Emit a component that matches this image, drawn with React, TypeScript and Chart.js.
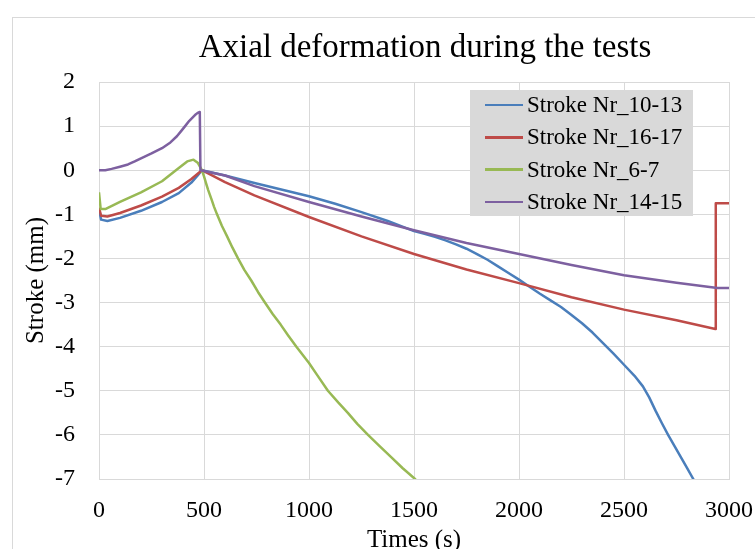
import React, { useEffect, useRef } from "react";
import { Chart, registerables } from "chart.js";

Chart.register(...registerables);

const CHART_TITLE = "Axial deformation during the tests";
const X_AXIS_TITLE = "Times (s)";
const Y_AXIS_TITLE = "Stroke (mm)";

const X_TICKS = [0, 500, 1000, 1500, 2000, 2500, 3000];
const Y_TICKS = [2, 1, 0, -1, -2, -3, -4, -5, -6, -7];

const SERIES_NAMES = ["Stroke Nr_10-13", "Stroke Nr_16-17", "Stroke Nr_6-7", "Stroke Nr_14-15"];
const SERIES_COLORS = ["#4A7EBB", "#BE4B48", "#98B954", "#7D60A0"];

// Stroke Nr_10-13
const blueTimes = [0, 10, 40, 100, 200, 300, 380, 440, 470, 490, 600, 750, 1000, 1125, 1250, 1375, 1500, 1550, 1600, 1650, 1700, 1750, 1800, 1850, 1900, 1950, 2000, 2050, 2100, 2150, 2200, 2250, 2300, 2350, 2400, 2450, 2500, 2550, 2590, 2620, 2650, 2680, 2710, 2740, 2770, 2800, 2830, 2880];
const blueStroke = [-0.9, -1.12, -1.15, -1.08, -0.92, -0.72, -0.52, -0.28, -0.12, 0, -0.12, -0.3, -0.59, -0.76, -0.95, -1.15, -1.38, -1.44, -1.51, -1.59, -1.68, -1.78, -1.9, -2.03, -2.18, -2.33, -2.48, -2.64, -2.8, -2.95, -3.1, -3.28, -3.47, -3.68, -3.92, -4.16, -4.41, -4.66, -4.9, -5.15, -5.45, -5.73, -6.0, -6.25, -6.5, -6.75, -7.0, -7.4];

// Stroke Nr_16-17
const redTimes = [0, 10, 40, 100, 200, 300, 380, 440, 490, 600, 740, 1000, 1250, 1500, 1750, 2000, 2250, 2500, 2750, 2935, 2937, 3000];
const redStroke = [-0.85, -1.03, -1.05, -0.97, -0.8, -0.6, -0.4, -0.2, 0, -0.27, -0.57, -1.06, -1.5, -1.9, -2.25, -2.56, -2.88, -3.16, -3.4, -3.6, -0.75, -0.75];

// Stroke Nr_6-7
const greenTimes = [0, 8, 30, 100, 200, 300, 380, 420, 450, 470, 490, 500, 510, 520, 535, 548, 562, 585, 610, 635, 662, 692, 725, 757, 790, 827, 865, 900, 940, 1000, 1040, 1090, 1140, 1185, 1230, 1281, 1335, 1390, 1445, 1505, 1560];
const greenStroke = [-0.5, -0.88, -0.88, -0.72, -0.5, -0.25, 0.05, 0.2, 0.24, 0.17, 0, -0.14, -0.3, -0.45, -0.65, -0.83, -1, -1.26, -1.5, -1.75, -2, -2.26, -2.5, -2.76, -3, -3.26, -3.5, -3.74, -4, -4.37, -4.65, -5, -5.27, -5.5, -5.75, -6, -6.25, -6.5, -6.75, -7, -7.3];

// Stroke Nr_14-15
const purpleTimes = [0, 30, 60, 100, 138, 170, 200, 250, 300, 340, 371, 390, 410, 430, 457, 470, 480, 483, 600, 740, 1000, 1250, 1500, 1750, 2000, 2250, 2500, 2750, 2945, 3000];
const purpleStroke = [0, 0, 0.03, 0.08, 0.13, 0.2, 0.27, 0.38, 0.5, 0.63, 0.77, 0.88, 1.0, 1.12, 1.25, 1.3, 1.32, 0, -0.12, -0.36, -0.72, -1.05, -1.36, -1.65, -1.9, -2.15, -2.38, -2.55, -2.67, -2.67];

const SERIES_TIMES = [blueTimes, redTimes, greenTimes, purpleTimes];
const SERIES_STROKES = [blueStroke, redStroke, greenStroke, purpleStroke];

const FONT_FAMILY = "'Liberation Serif', 'Times New Roman', serif";

const titlePlugin = {
  id: "customTitle",
  afterDraw(chart: any) {
    const ctx = chart.ctx;
    ctx.save();
    ctx.font = `33px ${FONT_FAMILY}`;
    ctx.fillStyle = "#000";
    ctx.textAlign = "center";
    ctx.textBaseline = "middle";
    ctx.fillText(CHART_TITLE, 425, 48);
    ctx.restore();
  },
};

export default function App() {
  const canvasRef = useRef<HTMLCanvasElement | null>(null);

  useEffect(() => {
    if (!canvasRef.current) return;
    const datasets = SERIES_NAMES.map((name, i) => ({
      label: name,
      data: SERIES_TIMES[i].map((t, j) => ({ x: t, y: SERIES_STROKES[i][j] })),
      borderColor: SERIES_COLORS[i],
      backgroundColor: SERIES_COLORS[i],
      borderWidth: 2.5,
      borderJoinStyle: "round" as const,
      pointRadius: 0,
      tension: 0,
      fill: false,
      order: SERIES_NAMES.length - i,
    }));
    const chart = new Chart(canvasRef.current, {
      type: "line",
      data: { datasets },
      options: {
        animation: false,
        responsive: false,
        maintainAspectRatio: false,
        layout: { padding: { left: 0, top: 82, right: 26, bottom: 0 } },
        plugins: {
          legend: { display: false },
          title: { display: false },
          tooltip: { enabled: false },
        },
        scales: {
          x: {
            type: "linear",
            min: 0,
            max: 3000,
            afterBuildTicks: (s: any) => {
              s.ticks = X_TICKS.map((v) => ({ value: v }));
            },
            afterFit: (s: any) => {
              s.height = 560 - 479;
              s.paddingLeft = 0;
              s.paddingRight = 0;
            },
            grid: { color: "#d9d9d9", lineWidth: 1, drawTicks: false },
            border: { color: "#d9d9d9" },
            ticks: {
              color: "#000",
              font: { family: FONT_FAMILY, size: 24 },
              padding: 17,
              maxRotation: 0,
              autoSkip: false,
              callback: (v: any) => String(v),
            },
            title: {
              display: true,
              text: X_AXIS_TITLE,
              color: "#000",
              font: { family: FONT_FAMILY, size: 25 },
              padding: { top: 0, bottom: 5 },
            },
          },
          y: {
            type: "linear",
            min: -7,
            max: 2,
            afterBuildTicks: (s: any) => {
              s.ticks = Y_TICKS.map((v) => ({ value: v }));
            },
            afterFit: (s: any) => {
              s.width = 99;
            },
            grid: { color: "#d9d9d9", lineWidth: 1, drawTicks: false },
            border: { color: "#d9d9d9" },
            ticks: {
              color: "#000",
              font: { family: FONT_FAMILY, size: 24 },
              padding: 24,
              callback: (v: any) => String(v),
            },
            title: {
              display: true,
              text: Y_AXIS_TITLE,
              color: "#000",
              font: { family: FONT_FAMILY, size: 25 },
              padding: { top: 21, bottom: 0 },
            },
          },
        },
      },
      plugins: [titlePlugin],
    });
    return () => chart.destroy();
  }, []);

  return (
    <div
      style={{
        position: "absolute",
        left: 0,
        top: 0,
        width: 755,
        height: 549,
        overflow: "hidden",
        background: "#fff",
      }}
    >
      <div
        style={{
          position: "absolute",
          left: 12,
          top: 17,
          width: 800,
          height: 600,
          borderLeft: "1px solid #d9d9d9",
          borderTop: "1px solid #d9d9d9",
        }}
      />
      <canvas
        ref={canvasRef}
        width={755}
        height={560}
        style={{ position: "absolute", left: 0, top: 0, width: 755, height: 560 }}
      />
      <div
        style={{
          position: "absolute",
          left: 470,
          top: 90,
          width: 223,
          height: 126,
          background: "#d9d9d9",
          fontFamily: FONT_FAMILY,
          fontSize: 23,
          color: "#000",
        }}
      >
        {SERIES_NAMES.map((name, i) => (
          <div
            key={name}
            style={{
              position: "absolute",
              left: 0,
              top: i * 32.3 - 1,
              height: 32,
              display: "flex",
              alignItems: "center",
              whiteSpace: "nowrap",
            }}
          >
            <span
              style={{
                display: "inline-block",
                marginLeft: 15,
                marginRight: 4,
                width: 38,
                height: 2.5,
                background: SERIES_COLORS[i],
              }}
            />
            <span>{name}</span>
          </div>
        ))}
      </div>
    </div>
  );
}
